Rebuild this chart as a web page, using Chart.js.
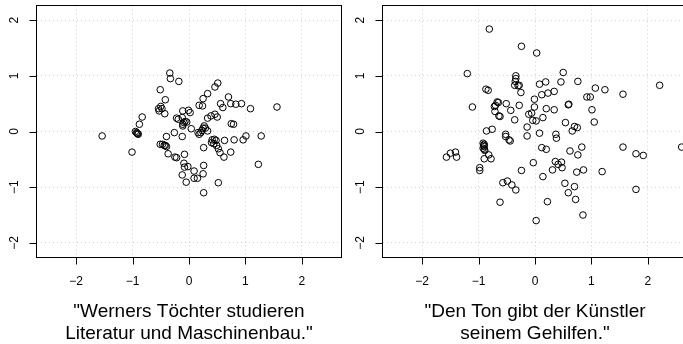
<!DOCTYPE html>
<html><head><meta charset="utf-8">
<script src="https://cdn.jsdelivr.net/npm/chart.js@4"></script>
<style>
html,body{margin:0;padding:0;background:#fff;overflow:hidden;width:683px;height:344px;position:relative;}
.panel{position:absolute;top:0;width:346px;height:344px;}
canvas{display:block;}
</style></head><body>
<div class="panel" style="left:0px"><canvas id="c1" width="346" height="344"></canvas></div>
<div class="panel" style="left:346px"><canvas id="c2" width="346" height="344"></canvas></div>
<script>
const tickValues = [-2, -1, 0, 1, 2];
const tickLabels = ['\u22122', '\u22121', '0', '1', '2'];
const titleLeft = ['"Werners Töchter studieren', 'Literatur und Maschinenbau."'];
const titleRight = ['"Den Ton gibt der Künstler', 'seinem Gehilfen."'];

const leftX = [-1.54,-1.01,-0.95,-0.93,-0.91,-0.90,-0.92,-0.88,-0.83,-0.51,-0.42,-0.34,-0.33,-0.18,-0.54,-0.50,-0.48,-0.53,-0.43,-0.51,-0.47,-0.44,-0.42,-0.40,-0.40,-0.37,-0.26,-0.25,-0.22,-0.22,-0.19,-0.12,-0.11,-0.12,-0.11,-0.09,-0.07,-0.04,-0.11,-0.08,-0.09,-0.08,-0.02,-0.12,-0.05,-0.01,0.02,0.04,0.09,0.09,0.15,0.16,0.18,0.21,0.23,0.25,0.27,0.29,0.25,0.18,0.24,0.33,0.33,0.39,0.46,0.50,0.33,0.26,0.26,0.25,0.26,0.46,0.51,0.41,0.45,0.48,0.40,0.44,0.49,0.52,0.55,0.52,0.56,0.60,0.63,0.62,0.70,0.74,0.83,0.93,0.75,0.79,0.74,0.80,0.96,1.01,1.09,1.23,1.28,1.56];
const leftY = [-0.08,-0.37,0.00,-0.02,-0.04,-0.05,-0.03,0.13,0.26,0.75,0.57,1.05,0.95,0.90,0.41,0.45,0.41,0.37,0.32,-0.23,-0.23,-0.25,-0.25,-0.27,-0.09,-0.40,-0.02,-0.46,-0.47,0.24,0.22,-0.09,0.37,0.25,0.13,0.16,0.18,0.17,0.10,-0.41,-0.57,-0.64,-0.63,-0.78,-0.91,0.38,0.34,0.05,-0.71,-0.84,-0.84,-0.02,-0.05,-0.02,0.02,0.06,0.10,0.06,0.59,0.47,0.46,0.68,0.24,0.28,0.31,0.26,0.01,-0.29,-0.61,-0.76,-1.10,0.80,0.87,-0.15,-0.14,-0.16,-0.20,-0.22,-0.25,-0.31,-0.38,-0.92,0.50,0.43,-0.16,-0.46,0.62,0.50,0.49,0.50,0.14,0.13,-0.37,-0.15,-0.15,-0.08,0.41,-0.59,-0.08,0.44];

const rightX = [-0.81,-0.24,0.03,-1.20,-0.34,-0.34,-0.35,-0.36,-0.30,-0.28,-0.25,-0.87,-0.83,-1.11,-0.70,-0.67,-0.65,-0.72,-0.71,-0.64,-0.62,-0.51,-0.43,-0.36,-0.28,-0.86,-0.76,-0.92,-0.90,-0.91,-0.90,-0.92,-0.90,-0.89,-0.90,-0.82,-0.78,-1.57,-1.50,-1.41,-1.39,-0.98,-0.98,-0.62,-0.57,-0.49,-0.41,-0.34,-0.24,-0.52,-0.52,-0.46,-0.44,-0.14,-0.14,-0.11,-0.06,-0.04,0.02,-0.01,-0.01,0.08,0.19,0.12,0.23,0.34,0.14,0.20,0.34,0.08,-0.03,0.12,0.20,0.14,0.22,0.02,0.31,0.37,0.38,0.36,0.41,0.47,0.48,0.46,0.50,0.54,0.59,0.60,0.53,0.59,0.62,0.66,0.70,0.75,0.70,0.72,0.74,0.76,0.76,0.83,0.86,0.85,0.92,0.98,1.01,1.05,1.07,1.19,1.24,1.56,1.56,1.79,1.92,1.79,2.21,2.60];
const rightY = [1.84,1.53,1.41,1.04,1.00,0.95,0.90,0.83,0.82,0.83,0.70,0.76,0.74,0.44,0.47,0.53,0.52,0.45,0.36,0.28,0.27,0.50,0.38,0.21,0.47,0.01,0.04,-0.21,-0.23,-0.25,-0.27,-0.30,-0.32,-0.34,-0.49,-0.42,-0.49,-0.46,-0.39,-0.37,-0.46,-0.65,-0.70,-1.27,-0.92,-0.89,-0.96,-1.05,-0.70,-0.05,-0.09,-0.15,-0.17,0.08,-0.08,0.31,0.33,0.20,0.19,0.44,0.58,0.85,0.89,0.66,0.69,0.72,0.25,0.41,0.39,-0.03,-0.56,-0.29,-0.32,-0.81,-1.26,-1.60,-0.69,-0.05,-0.12,-0.54,-0.59,-0.55,-0.65,0.89,1.06,0.16,0.48,0.49,-0.93,-1.10,-0.35,0.01,0.09,0.07,-0.99,-1.22,-0.73,-0.42,0.90,-0.28,-0.69,-1.50,0.62,0.62,0.39,0.17,0.78,-0.72,0.75,0.67,-0.28,-0.40,-0.43,-1.04,0.83,-0.28];

const FONT = '"Liberation Sans", Arial, Helvetica, sans-serif';

const rAxes = {
  id: 'rAxes',
  afterDraw(chart, args, opts) {
    const ctx = chart.ctx, a = chart.chartArea, xs = chart.scales.x, ys = chart.scales.y;
    ctx.save();
    ctx.strokeStyle = '#000';
    ctx.lineWidth = 1;
    ctx.strokeRect(a.left, a.top, a.right - a.left, a.bottom - a.top);
    ctx.beginPath();
    tickValues.forEach(v => {
      const px = Math.round(xs.getPixelForValue(v)) + 0.5;
      ctx.moveTo(px, a.bottom); ctx.lineTo(px, a.bottom + 7);
      const py = Math.round(ys.getPixelForValue(v)) + 0.5;
      ctx.moveTo(a.left, py); ctx.lineTo(a.left - 7, py);
    });
    ctx.stroke();
    ctx.fillStyle = '#000';
    ctx.font = '12px ' + FONT;
    ctx.textAlign = 'center';
    ctx.textBaseline = 'alphabetic';
    tickValues.forEach((v, i) => {
      ctx.fillText(tickLabels[i], xs.getPixelForValue(v), a.bottom + 27);
      ctx.save();
      ctx.translate(a.left - 18.7, ys.getPixelForValue(v));
      ctx.rotate(-Math.PI / 2);
      ctx.fillText(tickLabels[i], 0, 0);
      ctx.restore();
    });
    ctx.font = '19px ' + FONT;
    const cx = (a.left + a.right) / 2;
    ctx.fillText(opts.lines[0], cx, 317);
    ctx.fillText(opts.lines[1], cx, 338.5);
    ctx.restore();
  }
};

function makeChart(id, xs, ys, lines) {
  const pts = xs.map((x, i) => ({ x: x, y: ys[i] }));
  return new Chart(document.getElementById(id), {
    type: 'scatter',
    data: { datasets: [{
      data: pts,
      pointStyle: 'circle',
      pointRadius: 3.3,
      pointHoverRadius: 3.3,
      pointBorderWidth: 1,
      pointBorderColor: '#000',
      pointBackgroundColor: 'rgba(0,0,0,0)'
    }] },
    options: {
      responsive: false,
      devicePixelRatio: 1,
      animation: false,
      events: [],
      layout: { padding: { left: 36.5, top: 5.5, right: 4.5, bottom: 86.5 } },
      plugins: { legend: { display: false }, tooltip: { enabled: false }, rAxes: { lines: lines } },
      scales: {
        x: {
          type: 'linear', min: -2.704, max: 2.704,
          afterFit: s => { s.height = 0; },
          ticks: { display: false, stepSize: 1, includeBounds: false },
          grid: { color: '#d0d0d0', lineWidth: 1, drawTicks: false },
          border: { display: false, dash: [1, 3] }
        },
        y: {
          type: 'linear', min: -2.263, max: 2.263,
          afterFit: s => { s.width = 0; },
          ticks: { display: false, stepSize: 1, includeBounds: false },
          grid: { color: '#d0d0d0', lineWidth: 1, drawTicks: false },
          border: { display: false, dash: [1, 3] }
        }
      }
    },
    plugins: [rAxes]
  });
}
makeChart('c1', leftX, leftY, titleLeft);
makeChart('c2', rightX, rightY, titleRight);
</script>
</body></html>
